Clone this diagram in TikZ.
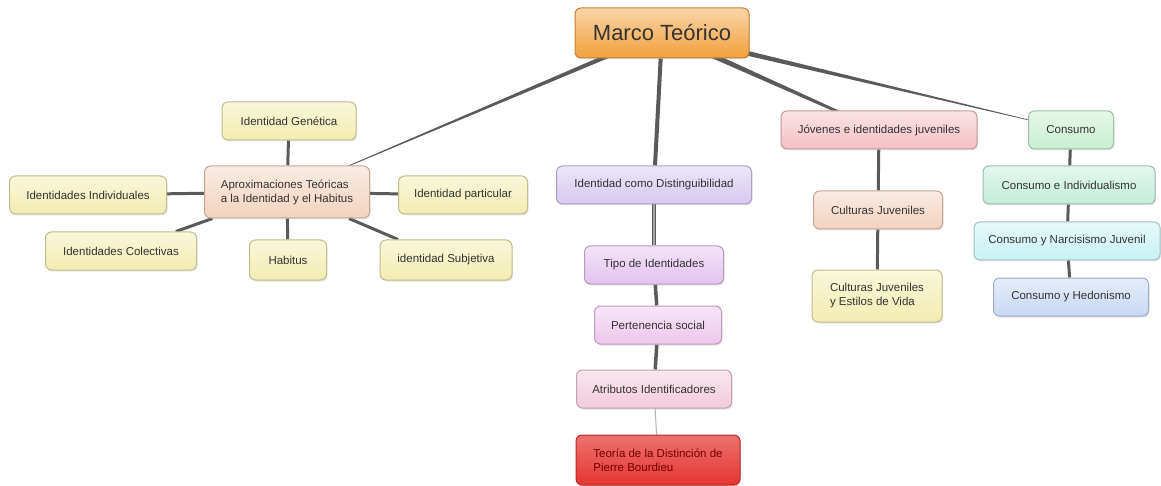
\documentclass[tikz,border=0pt]{standalone}
\usepackage{fontspec}
\setmainfont{Liberation Sans}
\usetikzlibrary{calc,shadows,backgrounds}

\definecolor{linea}{HTML}{5A5A5A}
\definecolor{naranja}{HTML}{F2A03C}
\definecolor{amarillo}{HTML}{F2ECB0}
\definecolor{durazno}{HTML}{F3D3BE}
\definecolor{lavanda}{HTML}{D6C8F0}
\definecolor{violeta}{HTML}{E3C2EE}
\definecolor{orquidea}{HTML}{EEC6EC}
\definecolor{rosa}{HTML}{F2CADB}
\definecolor{rojo}{HTML}{E53530}
\definecolor{rosado}{HTML}{F3C0C3}
\definecolor{melocoton}{HTML}{F4D2BE}
\definecolor{verde}{HTML}{C8EFCF}
\definecolor{menta}{HTML}{C2EDD9}
\definecolor{cian}{HTML}{C8F1F3}
\definecolor{celeste}{HTML}{C6D8F2}

\tikzset{
  caja/.style={rounded corners=6pt, draw=#1!80!black, line width=1pt,
    top color=#1!45!white, bottom color=#1, text=black!80,
    font=\fontsize{11.5}{14}\selectfont, inner sep=3pt,
    minimum height=38pt,
    drop shadow={opacity=0.2, shadow xshift=1pt, shadow yshift=-1.5pt}},
  rama/.style={draw=linea, line width=3pt},
  fina/.style={draw=black!30, line width=1pt}
}

\begin{document}
\begin{tikzpicture}[x=1pt,y=-1pt]
  \useasboundingbox (0,0) rectangle (1161,486);

  % Nodo central
  \node[caja=naranja, minimum width=174pt, minimum height=50pt,
        font=\fontsize{22}{25}\selectfont] (marco) at (662,33) {Marco Teórico};

  % Aproximaciones teóricas
  \node[caja=durazno, minimum width=165pt, minimum height=52pt, align=left] (aprox) at (287,192)
       {Aproximaciones Teóricas\\a la Identidad y el Habitus};
  \node[caja=amarillo, minimum width=134pt] (genetica) at (289,121) {Identidad Genética};
  \node[caja=amarillo, minimum width=157pt] (individuales) at (88,195) {Identidades Individuales};
  \node[caja=amarillo, minimum width=129pt] (particular) at (463,195) {Identidad particular};
  \node[caja=amarillo, minimum width=151pt] (colectivas) at (121,251) {Identidades Colectivas};
  \node[caja=amarillo, minimum width=77pt, minimum height=40pt] (habitus) at (288,260) {Habitus};
  \node[caja=amarillo, minimum width=132pt, minimum height=40pt] (subjetiva) at (446,260) {identidad Subjetiva};

  % Distinguibilidad
  \node[caja=lavanda, minimum width=195pt] (distin) at (654,185) {Identidad como Distinguibilidad};
  \node[caja=violeta, minimum width=139pt] (tipo) at (654,265) {Tipo de Identidades};
  \node[caja=orquidea, minimum width=127pt] (pertenencia) at (658,325) {Pertenencia social};
  \node[caja=rosa, minimum width=155pt] (atributos) at (654,389) {Atributos Identificadores};
  \node[caja=rojo, top color=rojo!70!white, text=black!55!red, minimum width=164pt,
        minimum height=50pt, align=left] (bourdieu) at (658,460)
       {Teoría de la Distinción de\\Pierre Bourdieu};

  % Jóvenes
  \node[caja=rosado, minimum width=196pt] (jovenes) at (879,130) {Jóvenes e identidades juveniles};
  \node[caja=melocoton, minimum width=129pt] (culturas) at (878,210) {Culturas Juveniles};
  \node[caja=amarillo, minimum width=130pt, minimum height=52pt, align=left] (estilos) at (877,296)
       {Culturas Juveniles\\ y Estilos de Vida};

  % Consumo
  \node[caja=verde, minimum width=85pt] (consumo) at (1071,130) {Consumo};
  \node[caja=menta, minimum width=172pt] (individualismo) at (1069,185) {Consumo e Individualismo};
  \node[caja=cian, minimum width=186pt] (narcisismo) at (1067,241) {Consumo y Narcisismo Juvenil};
  \node[caja=celeste, minimum width=155pt] (hedonismo) at (1071,297) {Consumo y Hedonismo};

  % Conexiones
  \begin{scope}[on background layer]
    \fill[linea] ($(marco.center)!2.5pt!90:(aprox.center)$) -- ($(marco.center)!2.5pt!-90:(aprox.center)$)
      -- (aprox.center) -- cycle;
    \fill[linea] ($(marco.center)!3pt!90:(jovenes.center)$) -- ($(marco.center)!3pt!-90:(jovenes.center)$)
      -- ($(jovenes.center)!1pt!90:(marco.center)$) -- ($(jovenes.center)!1pt!-90:(marco.center)$) -- cycle;
    \fill[linea] ($(marco.center)!3pt!90:(consumo.center)$) -- ($(marco.center)!3pt!-90:(consumo.center)$)
      -- (consumo.center) -- cycle;
    \draw[rama, line width=4pt] (marco) -- (distin);

    \draw[rama] (aprox) -- (genetica);
    \draw[rama] (aprox) -- (individuales);
    \draw[rama] (aprox) -- (particular);
    \draw[rama] (aprox) -- (colectivas);
    \draw[rama] (aprox) -- (habitus);
    \draw[rama] (aprox) -- (subjetiva);

    \draw[rama, line width=1.5pt, double=black!35, double distance=1.5pt] (distin) -- (tipo);
    \draw[rama, line width=3.5pt] (tipo) -- (pertenencia);
    \draw[rama, line width=3.5pt] (pertenencia) -- (atributos);
    \draw[fina] (atributos) -- (bourdieu);

    \draw[rama] (jovenes) -- (culturas);
    \draw[rama] (culturas) -- (estilos);

    \draw[rama] (consumo) -- (individualismo);
    \draw[rama] (individualismo) -- (narcisismo);
    \draw[rama] (narcisismo) -- (hedonismo);
  \end{scope}
\end{tikzpicture}
\end{document}
